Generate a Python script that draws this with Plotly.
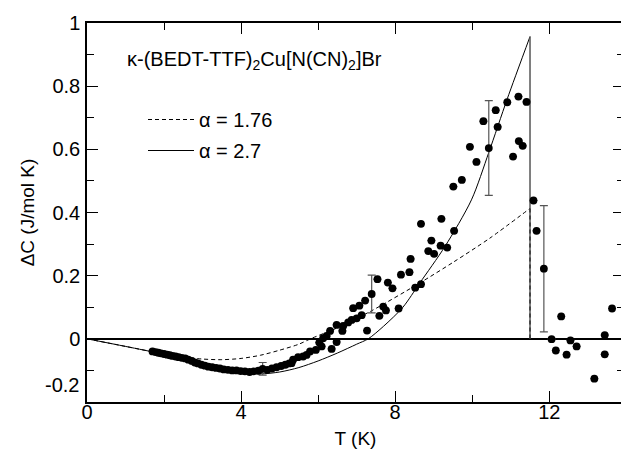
import plotly.graph_objects as go

# ---- measured points (T in K, Delta C in J/mol K) ----
T_data = [1.70, 1.78, 1.85, 1.92, 2.00, 2.08, 2.15, 2.22, 2.30, 2.38, 2.46, 2.55, 2.63, 2.72,
          2.80, 2.88, 2.97, 3.06, 3.15, 3.25, 3.35, 3.45, 3.55, 3.66, 3.77, 3.88, 3.99, 4.10,
          4.22, 4.33, 4.45, 4.56, 4.68, 4.80, 4.92, 5.04, 5.15, 5.25,
          5.31, 5.35, 5.48, 5.61, 5.70, 5.79, 5.94, 6.03, 6.09, 6.13, 6.22, 6.31, 6.35, 6.48,
          6.48, 6.63, 6.65, 6.78, 6.87, 6.91, 7.00, 7.07, 7.13, 7.22, 7.27, 7.39, 7.54, 7.59,
          7.69, 7.76, 7.81, 7.93, 8.09, 8.15, 8.37, 8.40, 8.52, 8.67, 8.67, 8.86, 8.94, 9.01,
          9.18, 9.20, 9.35, 9.51, 9.53, 9.73, 9.94, 10.11, 10.29, 10.43, 10.61, 10.66, 10.91,
          11.06, 11.20, 11.21, 11.31, 11.41, 11.59, 11.67, 11.86, 12.06, 12.17, 12.31, 12.45,
          12.55, 12.71, 13.17, 13.44, 13.44, 13.63]
dC_data = [-0.040, -0.042, -0.044, -0.046, -0.048, -0.050, -0.052, -0.054, -0.056, -0.058,
           -0.060, -0.062, -0.066, -0.070, -0.075, -0.078, -0.082, -0.085, -0.088, -0.090,
           -0.092, -0.094, -0.097, -0.098, -0.100, -0.100, -0.102, -0.103, -0.105, -0.103,
           -0.101, -0.095, -0.098, -0.094, -0.090, -0.086, -0.082, -0.078,
           -0.077, -0.066, -0.058, -0.056, -0.051, -0.040, -0.035, -0.012, -0.024, 0.002,
           0.009, 0.025, -0.032, -0.010, 0.044, 0.025, 0.041, 0.052, 0.060, 0.097, 0.065,
           0.105, 0.075, 0.121, 0.026, 0.142, 0.189, 0.073, 0.102, 0.090, 0.178, 0.160,
           0.096, 0.203, 0.211, 0.253, 0.162, 0.173, 0.364, 0.278, 0.311, 0.269, 0.295,
           0.380, 0.289, 0.482, 0.342, 0.503, 0.608, 0.560, 0.689, 0.604, 0.724, 0.671,
           0.749, 0.577, 0.767, 0.626, 0.611, 0.750, 0.438, 0.342, 0.222, -0.001, -0.037,
           0.071, -0.050, -0.005, -0.024, -0.126, -0.049, 0.012, 0.096]
# error bar half-lengths (None = no bar)
err_data = [None] * len(T_data)
err_data[T_data.index(4.56)] = 0.02
err_data[T_data.index(7.39)] = 0.06
err_data[T_data.index(10.43)] = 0.15
err_data[T_data.index(11.86)] = 0.20

# ---- model curves ----
fit176_T = [0, 1, 2, 2.5, 3, 3.5, 4, 4.5, 5, 5.5, 5.8, 6.5, 7.39, 8.64, 9.5, 10.46, 11.5]
fit176_C = [0, -0.024, -0.048, -0.058, -0.064, -0.066, -0.062, -0.052, -0.036, -0.017,
            0.0, 0.035, 0.089, 0.177, 0.242, 0.319, 0.413]
fit27_T = [0, 1, 2, 3, 3.5, 4, 4.5, 5, 5.5, 6, 6.5, 7, 7.3, 7.7, 8.2, 8.64, 9.29, 9.98,
           10.43, 10.91, 11.5]
fit27_C = [0, -0.024, -0.049, -0.077, -0.092, -0.105, -0.111, -0.105, -0.091, -0.070,
           -0.045, -0.017, 0.0, 0.040, 0.100, 0.177, 0.292, 0.440, 0.590, 0.760, 0.957]

x_tickvals = [0, 4, 8, 12]
x_ticktext = ["0", "4", "8", "12"]
x_minor = [2, 6, 10]
y_tickvals = [0, 0.2, 0.4, 0.6, 0.8, 1.0]
y_ticktext = ["0", "0.2", "0.4", "0.6", "0.8", "1"]
y_minor = [-0.1, 0.1, 0.3, 0.5, 0.7, 0.9]

FONT = "Liberation Sans, Arial, Helvetica, sans-serif"

fig = go.Figure()

fig.add_trace(go.Scatter(
    x=fit176_T, y=fit176_C, mode="lines", name="α = 1.76", legend="legend",
    line=dict(color="black", width=1, dash="4px,3px", shape="spline", smoothing=0.8)))
fig.add_trace(go.Scatter(
    x=fit27_T, y=fit27_C, mode="lines", name="α = 2.7", legend="legend2",
    line=dict(color="black", width=1, shape="spline", smoothing=0.8)))
# vertical drops at Tc
fig.add_trace(go.Scatter(
    x=[fit27_T[-1], fit27_T[-1]], y=[fit27_C[-1], 0], mode="lines", showlegend=False,
    line=dict(color="#555555", width=1.5)))
fig.add_trace(go.Scatter(
    x=[fit176_T[-1], fit176_T[-1]], y=[fit176_C[-1], 0], mode="lines", showlegend=False,
    line=dict(color="#222222", width=1.2, dash="4px,3px")))

fig.add_trace(go.Scatter(
    x=T_data, y=dC_data, mode="markers", showlegend=False,
    marker=dict(color="black", size=7.8, line=dict(width=0)),
    error_y=dict(type="data", array=err_data, symmetric=True, color="#555555",
                 thickness=1.2, width=4)))

fig.add_annotation(
    xref="paper", yref="paper", x=(125 - 87) / 537, y=(402 - 60) / 379,
    xanchor="left", yanchor="middle", showarrow=False,
    text="κ-(BEDT-TTF)<sub>2</sub>Cu[N(CN)<sub>2</sub>]Br",
    font=dict(family=FONT, size=20, color="black"))
fig.add_annotation(
    xref="paper", yref="y", x=0, y=-0.2, xanchor="right", yanchor="middle",
    xshift=-6, yshift=17, showarrow=False, text="-0.2",
    font=dict(family=FONT, size=20, color="black"))

axis_common = dict(
    ticks="inside", ticklen=11, tickwidth=1.2, tickcolor="black",
    showline=True, linecolor="black", linewidth=1.5, mirror="ticks",
    showgrid=False, automargin=False,
    tickfont=dict(family=FONT, size=20, color="black"),
)

fig.update_xaxes(
    range=[0, 13.94], tickmode="array", tickvals=x_tickvals, ticktext=x_ticktext,
    zeroline=False, ticklabelstandoff=-9,
    minor=dict(tickmode="array", tickvals=x_minor, ticks="inside", ticklen=7,
               tickwidth=1.2, tickcolor="black", showgrid=False),
    title=dict(text="T (K)", font=dict(family=FONT, size=19, color="black"), standoff=10),
    **axis_common)
fig.update_yaxes(
    range=[-0.2, 1.0], tickmode="array", tickvals=y_tickvals, ticktext=y_ticktext,
    zeroline=True, zerolinecolor="black", zerolinewidth=1.5, ticklabelstandoff=1,
    minor=dict(tickmode="array", tickvals=y_minor, ticks="inside", ticklen=7,
               tickwidth=1.2, tickcolor="black", showgrid=False),
    title=dict(text="ΔC (J/mol K)", font=dict(family=FONT, size=19, color="black"), standoff=13),
    **axis_common)

legend_common = dict(xanchor="left", yanchor="top", bgcolor="rgba(0,0,0,0)", borderwidth=0,
                     itemwidth=46, font=dict(family=FONT, size=20, color="black"))

# the page body adds an 8 px offset, so the figure is 8 px smaller and margins shifted
fig.update_layout(
    width=621, height=443,
    margin=dict(l=79, r=5, t=15, b=49, autoexpand=False),
    paper_bgcolor="white", plot_bgcolor="white",
    font=dict(family=FONT, size=19, color="black"),
    showlegend=True,
    legend=dict(x=(143 - 87) / 537, y=(402 - 100) / 379, **legend_common),
    legend2=dict(x=(143 - 87) / 537, y=(402 - 131) / 379, **legend_common),
)

fig.write_html("out.html")
